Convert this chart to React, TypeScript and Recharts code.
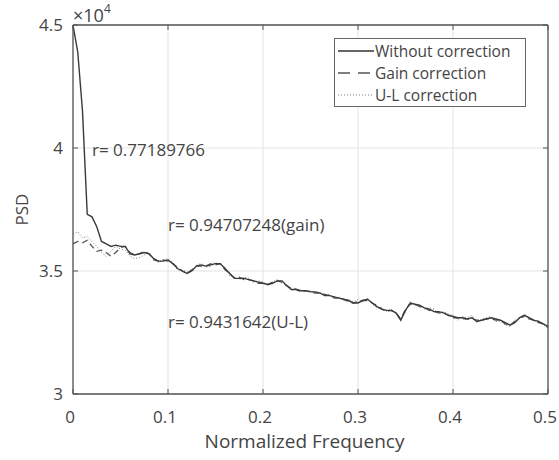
import React from 'react';
import { LineChart, Line, XAxis, YAxis, CartesianGrid, ReferenceDot } from 'recharts';

// normalized frequency grid (0 .. 0.5)
const freq = [
  0, 0.005, 0.01, 0.015, 0.02, 0.025, 0.03, 0.035, 0.04, 0.045,
  0.05, 0.055, 0.06, 0.065, 0.07, 0.075, 0.08, 0.085, 0.09, 0.095,
  0.1, 0.105, 0.11, 0.115, 0.12, 0.125, 0.13, 0.135, 0.14, 0.145,
  0.15, 0.155, 0.16, 0.165, 0.17, 0.175, 0.18, 0.185, 0.19, 0.195,
  0.2, 0.205, 0.21, 0.215, 0.22, 0.225, 0.23, 0.235, 0.24, 0.245,
  0.25, 0.255, 0.26, 0.265, 0.27, 0.275, 0.28, 0.285, 0.29, 0.295,
  0.3, 0.305, 0.31, 0.315, 0.32, 0.325, 0.33, 0.335, 0.34, 0.345,
  0.35, 0.355, 0.36, 0.365, 0.37, 0.375, 0.38, 0.385, 0.39, 0.395,
  0.4, 0.405, 0.41, 0.415, 0.42, 0.425, 0.43, 0.435, 0.44, 0.445,
  0.45, 0.455, 0.46, 0.465, 0.47, 0.475, 0.48, 0.485, 0.49, 0.495,
  0.5,
];

// PSD values in units of 1e4
const withoutCorr = [
  4.50, 4.39, 4.15, 3.73, 3.72, 3.68, 3.62, 3.61, 3.60, 3.605,
  3.60, 3.60, 3.57, 3.565, 3.57, 3.575, 3.57, 3.55, 3.54, 3.54,
  3.545, 3.53, 3.51, 3.50, 3.49, 3.50, 3.52, 3.525, 3.52, 3.525,
  3.53, 3.53, 3.51, 3.49, 3.47, 3.47, 3.47, 3.465, 3.46, 3.455,
  3.45, 3.445, 3.45, 3.46, 3.46, 3.44, 3.425, 3.425, 3.42, 3.42,
  3.415, 3.415, 3.41, 3.40, 3.40, 3.395, 3.39, 3.385, 3.38, 3.37,
  3.37, 3.38, 3.385, 3.37, 3.355, 3.345, 3.34, 3.34, 3.33, 3.30,
  3.34, 3.37, 3.365, 3.36, 3.35, 3.345, 3.335, 3.335, 3.33, 3.32,
  3.315, 3.31, 3.31, 3.305, 3.31, 3.295, 3.30, 3.305, 3.31, 3.305,
  3.30, 3.29, 3.28, 3.29, 3.31, 3.32, 3.31, 3.30, 3.295, 3.285,
  3.275,
];

const gainCorr = [
  3.61, 3.62, 3.615, 3.625, 3.60, 3.58, 3.585, 3.575, 3.56, 3.575,
  3.595, 3.60, 3.575, 3.565, 3.57, 3.58, 3.57, 3.545, 3.54, 3.545,
  3.54, 3.53, 3.515, 3.50, 3.49, 3.505, 3.52, 3.52, 3.52, 3.53,
  3.525, 3.53, 3.505, 3.49, 3.47, 3.475, 3.465, 3.465, 3.46, 3.45,
  3.45, 3.445, 3.455, 3.46, 3.455, 3.44, 3.43, 3.425, 3.415, 3.42,
  3.415, 3.41, 3.41, 3.405, 3.40, 3.39, 3.39, 3.385, 3.375, 3.37,
  3.375, 3.38, 3.38, 3.37, 3.36, 3.345, 3.335, 3.34, 3.33, 3.305,
  3.345, 3.365, 3.365, 3.355, 3.35, 3.34, 3.335, 3.33, 3.33, 3.32,
  3.31, 3.31, 3.305, 3.305, 3.305, 3.30, 3.30, 3.305, 3.305, 3.30,
  3.30, 3.285, 3.28, 3.295, 3.31, 3.315, 3.305, 3.30, 3.29, 3.285,
  3.27,
];

const ulCorr = [
  3.65, 3.66, 3.635, 3.64, 3.62, 3.60, 3.575, 3.56, 3.58, 3.60,
  3.59, 3.585, 3.56, 3.55, 3.555, 3.565, 3.575, 3.55, 3.535, 3.545,
  3.55, 3.535, 3.505, 3.505, 3.495, 3.50, 3.525, 3.53, 3.515, 3.52,
  3.535, 3.525, 3.515, 3.48, 3.475, 3.465, 3.475, 3.47, 3.455, 3.46,
  3.455, 3.44, 3.455, 3.465, 3.45, 3.445, 3.42, 3.43, 3.42, 3.415,
  3.42, 3.41, 3.415, 3.40, 3.405, 3.39, 3.395, 3.38, 3.385, 3.375,
  3.385, 3.375, 3.39, 3.365, 3.35, 3.35, 3.335, 3.345, 3.325, 3.305,
  3.335, 3.375, 3.36, 3.365, 3.345, 3.35, 3.345, 3.325, 3.335, 3.325,
  3.32, 3.30, 3.315, 3.31, 3.32, 3.29, 3.305, 3.31, 3.315, 3.295,
  3.295, 3.28, 3.275, 3.30, 3.305, 3.325, 3.31, 3.295, 3.30, 3.28,
  3.27,
];

const xTicks = [0, 0.1, 0.2, 0.3, 0.4, 0.5];
const yTicks = [3, 3.5, 4, 4.5];

const seriesNames = ['Without correction', 'Gain correction', 'U-L correction'];
const annotations = [
  { f: 0.02, v: 3.99, text: 'r= 0.77189766' },
  { f: 0.1, v: 3.687, text: 'r= 0.94707248(gain)' },
  { f: 0.1, v: 3.293, text: 'r= 0.9431642(U-L)' },
];

const data = freq.map((f, i) => ({
  f,
  without: withoutCorr[i],
  gain: gainCorr[i],
  ul: ulCorr[i],
}));

const FONT = '"Open Sans", "Noto Sans", sans-serif';
const TXT = '#444';
const AX = '#555';

const BottomTick = (props: any) => {
  const { x, y, payload } = props;
  return (
    <g>
      <line x1={x} y1={y} x2={x} y2={y - 5} stroke={AX} />
      <text x={x - 3} y={y + 29} textAnchor="middle" fontSize={17} fill={TXT} fontFamily={FONT}>
        {payload.value}
      </text>
    </g>
  );
};

const TopTick = (props: any) => {
  const { x, y } = props;
  return <line x1={x} y1={y} x2={x} y2={y + 5} stroke={AX} />;
};

const LeftTick = (props: any) => {
  const { x, y, payload } = props;
  return (
    <g>
      <line x1={x} y1={y} x2={x + 5} y2={y} stroke={AX} />
      <text x={x - 10} y={y + 6} textAnchor="end" fontSize={17} fill={TXT} fontFamily={FONT}>
        {payload.value}
      </text>
    </g>
  );
};

const RightTick = (props: any) => {
  const { x, y } = props;
  return <line x1={x} y1={y} x2={x - 5} y2={y} stroke={AX} />;
};

const YLabel = (props: any) => {
  const vb = props.viewBox || {};
  const cy = vb.y + vb.height / 2;
  const right = vb.x + vb.width;
  return (
    <g fontFamily={FONT} fill={TXT}>
      <text x={23} y={cy} transform={`rotate(-90 23 ${cy})`} textAnchor="middle" dominantBaseline="middle" fontSize={17}>
        PSD
      </text>
      <text x={right} y={vb.y - 3} fontSize={18}>
        {'\u00d710'}
        <tspan dy={-9} fontSize={12}>4</tspan>
      </text>
    </g>
  );
};

const XLabel = (props: any) => {
  const vb = props.viewBox || {};
  return (
    <text x={vb.x + vb.width / 2 - 6} y={vb.y + 54} textAnchor="middle" fontSize={19} fill={TXT} fontFamily={FONT}>
      Normalized Frequency
    </text>
  );
};

const LegendBox = () => (
  <div
    style={{
      position: 'absolute',
      left: 334,
      top: 38,
      border: '1px solid #666',
      background: '#fff',
      width: 192,
      height: 69,
      fontFamily: FONT,
      fontSize: 15.5,
      color: TXT,
      boxSizing: 'border-box',
      paddingTop: 1,
    }}
  >
    {seriesNames.map((name, i) => (
      <div key={name} style={{ display: 'flex', alignItems: 'center', height: 22, whiteSpace: 'nowrap' }}>
        <svg width={40} height={10} style={{ flex: 'none' }}>
          <line
            x1={3}
            y1={5}
            x2={39}
            y2={5}
            stroke={i === 0 ? '#333' : i === 1 ? '#555' : '#777'}
            strokeWidth={i === 2 ? 1 : 1.4}
            strokeDasharray={i === 1 ? '12 8' : i === 2 ? '1 2' : undefined}
          />
        </svg>
        <span>{name}</span>
      </div>
    ))}
  </div>
);

const AnnotationLabel = (text: string) => (props: any) => {
  const vb = props.viewBox || {};
  return (
    <text x={vb.x} y={vb.y + 6} fontSize={17} fill={TXT} fontFamily={FONT}>
      {text}
    </text>
  );
};

export default function App() {
  return (
    <div style={{ position: 'absolute', left: 0, top: 0, width: 559, height: 460, background: '#fff' }}>
      <LineChart width={559} height={460} data={data} margin={{ top: 24, right: 10, left: 0, bottom: 26 }}>
        <CartesianGrid stroke="#e3e3e3" horizontal vertical />
        <XAxis
          dataKey="f"
          type="number"
          domain={[0, 0.5]}
          ticks={xTicks}
          height={40}
          stroke={AX}
          strokeWidth={1.3}
          tickLine={false}
          tickSize={0}
          tickMargin={0}
          tick={<BottomTick />}
          label={<XLabel />}
        />
        <XAxis
          xAxisId="top"
          orientation="top"
          dataKey="f"
          type="number"
          domain={[0, 0.5]}
          ticks={xTicks}
          height={1}
          stroke={AX}
          strokeWidth={1.3}
          tickLine={false}
          tickSize={0}
          tickMargin={0}
          tick={<TopTick />}
        />
        <YAxis
          type="number"
          domain={[3, 4.5]}
          ticks={yTicks}
          width={73}
          stroke={AX}
          strokeWidth={1.3}
          tickLine={false}
          tickSize={0}
          tickMargin={0}
          tick={<LeftTick />}
          label={<YLabel />}
        />
        <YAxis
          yAxisId="right"
          orientation="right"
          type="number"
          domain={[3, 4.5]}
          ticks={yTicks}
          width={1}
          stroke={AX}
          strokeWidth={1.3}
          tickLine={false}
          tickSize={0}
          tickMargin={0}
          tick={<RightTick />}
        />
        <Line xAxisId="top" yAxisId="right" type="linear" dataKey="ul" name={seriesNames[2]} stroke="#777" strokeWidth={1} strokeDasharray="1 2" dot={false} isAnimationActive={false} />
        <Line type="linear" dataKey="gain" name={seriesNames[1]} stroke="#555" strokeWidth={1.3} strokeDasharray="6 4" dot={false} isAnimationActive={false} />
        <Line type="linear" dataKey="without" name={seriesNames[0]} stroke="#3a3a3a" strokeWidth={1.4} dot={false} isAnimationActive={false} />
        {annotations.map((a) => (
          <ReferenceDot key={a.text} x={a.f} y={a.v} r={0} stroke="none" fill="none" ifOverflow="visible" label={AnnotationLabel(a.text)} />
        ))}
      </LineChart>
      <LegendBox />
    </div>
  );
}
